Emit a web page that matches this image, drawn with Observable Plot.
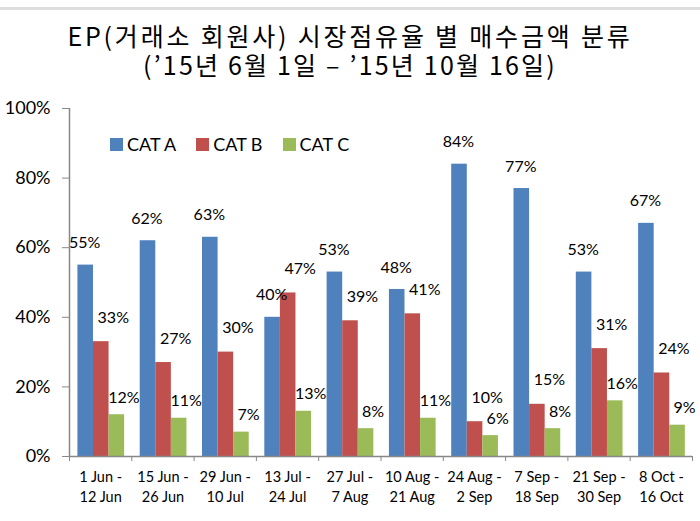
<!DOCTYPE html>
<html>
<head>
<meta charset="utf-8">
<script src="https://cdn.jsdelivr.net/npm/d3@7"></script>
<script src="https://cdn.jsdelivr.net/npm/@observablehq/plot@0.6"></script>
<style>
  html, body { margin: 0; padding: 0; background: #fff; }
  #wrap { position: relative; width: 700px; height: 521px; overflow: hidden; font-family: Lato, sans-serif; }
  #topline { position: absolute; left: 0; top: 7px; width: 700px; height: 3px; background: #dedede; }
  #title { position: absolute; left: 0; top: 21px; width: 700px; font-family: "Noto Sans CJK KR", sans-serif; color: #000; text-align: center; font-size: 25px; line-height: 29px; }
  #title .l1 { letter-spacing: 2.8px; }
  #title .l2 { letter-spacing: 2.2px; }
  #chart { position: absolute; left: 0; top: 90px; }
  #legend { position: absolute; top: 133px; left: 110px; display: flex; font-family: Lato, sans-serif; font-size: 18px; color: #000; }
  #legend .item { display: flex; align-items: center; margin-right: 20px; }
  #legend .sw { width: 13px; height: 13px; margin-right: 4px; }
</style>
</head>
<body>
<div id="wrap">
  <div id="topline"></div>
  <div id="title"></div>
  <div id="chart"></div>
  <div id="legend"></div>
</div>
<script>
const titleLines = ["EP(거래소 회원사) 시장점유율 별 매수금액 분류", "(’15년 6월 1일 – ’15년 10월 16일)"];
const periods = ["1 Jun -\n12 Jun", "15 Jun -\n26 Jun", "29 Jun -\n10 Jul", "13 Jul -\n24 Jul", "27 Jul -\n7 Aug",
                 "10 Aug -\n21 Aug", "24 Aug -\n2 Sep", "7 Sep -\n18 Sep", "21 Sep -\n30 Sep", "8 Oct -\n16 Oct"];
const categories = ["CAT A", "CAT B", "CAT C"];
const catA = [0.55, 0.62, 0.63, 0.40, 0.53, 0.48, 0.84, 0.77, 0.53, 0.67];
const catB = [0.33, 0.27, 0.30, 0.47, 0.39, 0.41, 0.10, 0.15, 0.31, 0.24];
const catC = [0.12, 0.11, 0.07, 0.13, 0.08, 0.11, 0.06, 0.08, 0.16, 0.09];
const yTicks = [0, 0.2, 0.4, 0.6, 0.8, 1.0];
const colors = ["#4F81BD", "#C0504D", "#9BBB59"];

const series = [catA, catB, catC];
const data = [];
series.forEach((vals, j) => vals.forEach((v, i) => data.push({i, j, cat: categories[j], value: v})));
const periodRows = periods.map((label, i) => ({i, label}));

// layout constants (group-relative fractions)
const barOff = 0.135, barW = 0.25;
const labelShift = [{dx: -1, dy: -22}, {dx: 12, dy: -24}, {dx: 7, dy: -17}];

document.querySelector("#title").innerHTML =
  `<span class="l1">${titleLines[0]}</span><br><span class="l2">${titleLines[1]}</span>`;

const axisColor = "#888";
const pct = d3.format(".0%");

const plot = Plot.plot({
  width: 700,
  height: 431,
  marginTop: 18,
  marginBottom: 65,
  marginLeft: 69,
  marginRight: 8,
  style: {fontFamily: "Lato, sans-serif", color: "#000", background: "transparent"},
  x: {domain: [0, periods.length], axis: null},
  y: {domain: [0, 1], axis: null},
  color: {domain: categories, range: colors},
  marks: [
    Plot.rectY(data, {
      x1: d => d.i + barOff + barW * d.j,
      x2: d => d.i + barOff + barW * (d.j + 1),
      y: "value",
      fill: "cat"
    }),
    ...categories.map((c, j) => Plot.text(data.filter(d => d.j === j), {
      x: d => d.i + barOff + barW * (d.j + 0.5),
      y: "value",
      text: d => pct(d.value),
      dx: labelShift[j].dx,
      dy: labelShift[j].dy,
      fontSize: 16,
      fill: "#000"
    })),
    Plot.ruleX([0], {y1: 0, y2: 1, stroke: axisColor, strokeWidth: 1.5}),
    Plot.ruleY([0], {x1: 0, x2: periods.length, stroke: axisColor, strokeWidth: 1.5}),
    Plot.axisY({ticks: yTicks, tickFormat: pct, tickSize: 7, tickPadding: 12, stroke: axisColor, fontSize: 18, fill: "#000", label: null}),
    Plot.axisX({ticks: d3.range(periods.length + 1), tickFormat: () => "", tickSize: 5, stroke: axisColor, label: null}),
    Plot.text(periodRows, {
      x: d => d.i + 0.5,
      text: "label",
      frameAnchor: "bottom",
      lineAnchor: "top",
      dy: 12,
      lineHeight: 1.35,
      fontSize: 14.5,
      fill: "#000"
    })
  ]
});
document.querySelector("#chart").appendChild(plot);

const legend = document.querySelector("#legend");
categories.forEach((c, j) => {
  const item = document.createElement("div");
  item.className = "item";
  item.innerHTML = `<div class="sw" style="background:${colors[j]}"></div><span>${c}</span>`;
  legend.appendChild(item);
});
</script>
</body>
</html>
